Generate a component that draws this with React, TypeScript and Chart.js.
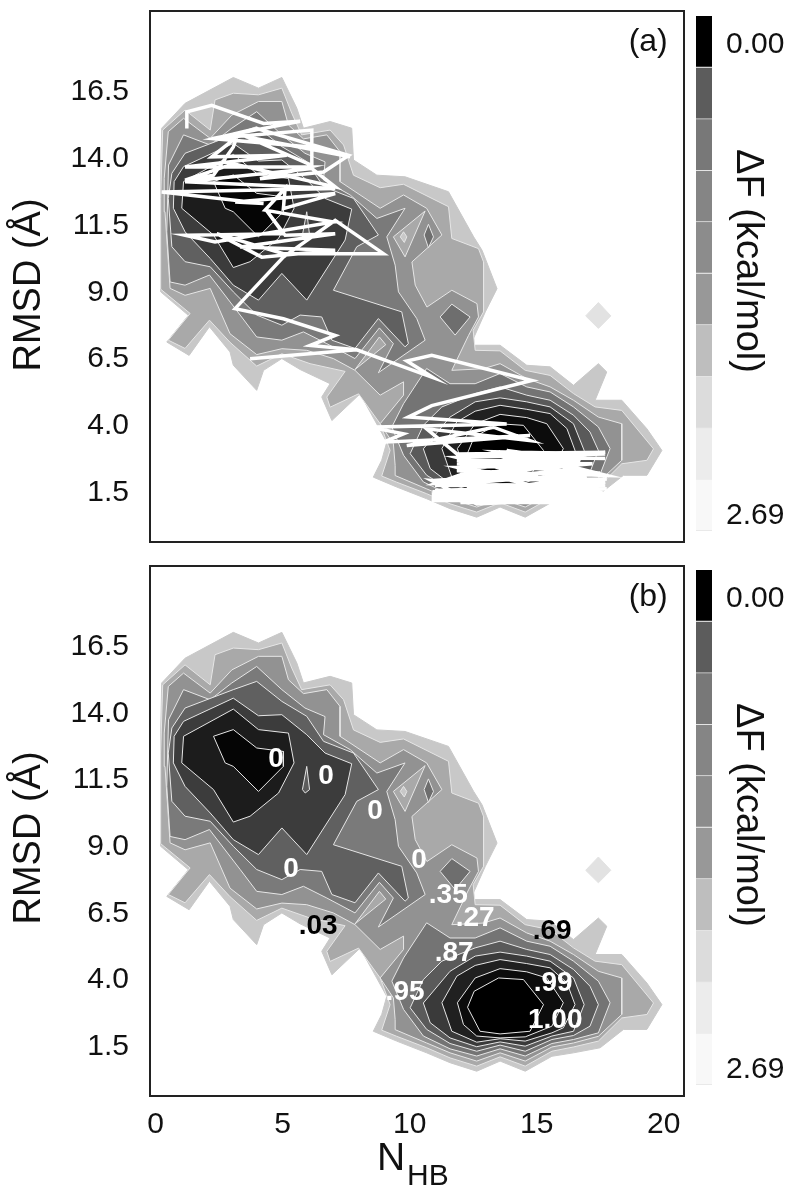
import React, { useEffect, useRef } from "react";
import { Chart, registerables } from "chart.js";

Chart.register(...registerables);
Chart.defaults.font.family = '"Liberation Sans", Arial, sans-serif';

type Pt = [number, number];

const FONT = '"Liberation Sans", Arial, sans-serif';
const xTicks = [0, 5, 10, 15, 20];
const yTicks = [1.5, 4, 6.5, 9, 11.5, 14, 16.5];
const xRange = [-0.22, 20.8];
const yRange = [-0.43, 19.46];

// free-energy contours, in data units (N_HB, RMSD)
const level0: Pt[] = [[.24,15.07],[1.16,16],[3.06,16.97],[4.05,16.57],[4.97,16.97],[5.56,15.82],[5.82,15.07],[6.87,15.32],[7.72,15.07],[7.79,13.88],[8.71,13.31],[9.82,13.25],[11.53,12.69],[12.52,11],[12.85,10.5],[13.44,9.06],[12.98,8.19],[12.45,7.06],[12.58,6.94],[13.56,6.94],[14.61,6.19],[15.53,6.13],[16.45,5.44],[17.43,6.25],[17.76,5.94],[17.3,4.88],[18.35,4.88],[19.34,3.81],[19.93,3],[19.34,2.07],[18.42,2.07],[17.5,1.38],[16.45,1.19],[15.6,1.06],[14.55,.5],[13.56,.88],[12.64,.5],[11.59,.82],[10.67,1.19],[9.49,1.63],[8.57,2],[8.9,2.63],[9.1,3.31],[8.05,5.12],[6.94,4.12],[6.54,5],[6.87,5.5],[5.69,6.03],[4.97,6.44],[4.25,6],[3.98,5.25],[3.06,6.19],[2.93,6.69],[2.12,7.63],[1.32,6.56],[.44,7.06],[1.29,8.06],[.2,8.94],[.2,13.2]];
const level1: Pt[] = [[.28,15],[1.16,15.75],[2.15,15],[2.34,16.13],[3.06,16.38],[4.05,16.32],[4.97,16.57],[5.36,15.63],[5.75,14.82],[6.87,15],[7.4,14.44],[7.79,13.31],[8.84,12.84],[9.76,12.97],[11.53,12.13],[11.66,10.94],[12.71,10.56],[12.91,10.06],[12.91,8.19],[12.5,7.5],[12.58,6.75],[13.56,6.73],[14.55,6],[15.53,5.81],[16.45,5.13],[17.3,4.63],[18.35,4.5],[19.6,3.06],[19.34,2.63],[18.35,2.5],[17.43,1.63],[16.45,1.41],[15.6,1.25],[14.55,.69],[13.56,1.04],[12.64,.69],[11.59,1],[10.67,1.38],[9.49,1.81],[8.9,2.04],[9.23,3],[8.84,4],[7.99,5.12],[6.87,4.62],[6.74,5],[7.46,5.96],[6.08,6.25],[4.97,6.62],[3.98,6.16],[2.93,7.05],[2.12,7.88],[1.16,6.82],[.5,7.13],[1.36,8.13],[.2,9.04],[.2,12.44]];
const level2: Pt[] = [[.5,14.94],[1.1,15.44],[2.15,14.69],[3,15.56],[4.05,16.07],[4.97,16.07],[5.23,15.19],[5.82,14.67],[6.74,14.82],[7.26,14.19],[7.26,13.07],[8.84,12.07],[9.76,12.57],[10.67,12.07],[11.27,11.07],[10.09,10.06],[10.22,9.19],[10.68,8.37],[11.66,9],[12.65,8.5],[12.71,8],[12.32,7.31],[11.66,6],[12.9,6.06],[13.56,6.25],[14.61,5.69],[15.53,5.38],[16.45,4.88],[17.43,4.25],[18.35,4],[18.35,2.63],[17.43,1.81],[16.45,1.56],[15.6,1.41],[14.55,.88],[13.56,1.19],[12.64,.88],[11.59,1.19],[10.67,1.56],[9.43,2.06],[9.43,2.44],[9.36,3.25],[8.84,4],[9.76,5.07],[9.76,5.57],[8.84,5.07],[7.85,6],[7,6.44],[5.95,6.75],[4.97,6.81],[3.98,6.59],[2.93,7.37],[2.15,9.07],[1.16,8.81],[.57,9.07],[.37,11.94],[.34,13.19]];
const level3Upper: Pt[] = [[.51,13.69],[1.1,14.82],[2.15,14.44],[3,15.07],[3.98,15.69],[4.97,14.82],[5.88,14.13],[6.67,13.81],[6.61,13.13],[7.66,12.57],[8.71,11.69],[9.82,12.07],[9.1,11],[9.43,9.94],[9.56,8.94],[10.28,7.94],[10.61,7.13],[8.77,5.91],[9.36,7],[8.81,7.59],[7.85,6.44],[6.74,7],[5.82,7.44],[4.97,7.13],[3.98,7.25],[3.33,8.07],[2.12,9.57],[1.16,9.19],[.57,9.31],[.44,11.19]];
const level4Upper: Pt[] = [[.64,13.38],[1.16,14.13],[3.06,14.82],[3.98,15.13],[4.97,14.38],[5.95,13.82],[6.61,12.88],[7.79,12.44],[8.77,11.07],[7.92,10.63],[7,9],[9.69,8.19],[9.95,7],[9.82,6.88],[8.77,7.94],[7.85,6.82],[6.94,7.13],[6.54,8],[5.69,8.07],[4.97,7.69],[3.98,8.07],[3.06,8.94],[2.15,9.88],[1.16,10.07],[.64,10.63],[.5,12.44]];
const level5Upper: Pt[] = [[.73,13.07],[1.1,13.63],[3.06,14.5],[4.05,13.84],[4.97,13.88],[5.95,13.13],[6.67,12.44],[7.72,12.04],[7.46,10.88],[5.95,8.63],[4.97,9.63],[4.05,8.63],[3.06,9.19],[2.15,10.19],[1.16,11.19],[.7,12.07]];
const level6Upper: Pt[] = [[1.1,13.07],[3.06,14.09],[4.05,13.32],[5.23,13.19],[5.45,12.07],[4.84,10.94],[3.72,10.07],[3.06,9.85],[2.28,11.07],[1.03,12.07]];
const level7Upper: Pt[] = [[2.28,13.07],[3.06,13.32],[3.98,12.63],[5.03,12.5],[5.03,11.94],[4.05,11],[3.06,11.94],[2.74,12.07]];
const level3Lower: Pt[] = [[10.67,6.07],[11.59,5.5],[12.58,5.5],[13.56,5.88],[14.61,5.38],[15.53,5.19],[16.45,4.63],[17.43,3.88],[17.89,3.07],[17.43,1.94],[16.45,1.69],[15.6,1.54],[14.55,1.07],[13.56,1.34],[12.64,1.07],[11.59,1.34],[10.54,1.82],[9.76,2.82],[9.3,3.88],[9.76,4.75]];
const level4Lower: Pt[] = [[11.27,4.63],[12.58,5.13],[13.56,5.38],[14.61,5.07],[15.53,4.88],[16.45,4.32],[17.1,3.69],[17.43,3],[17.1,2.19],[16.45,1.84],[15.6,1.69],[14.55,1.25],[13.56,1.48],[12.64,1.25],[11.59,1.54],[10.67,2.07],[10.02,2.88],[10.54,3.94]];
const level5Lower: Pt[] = [[10.54,3.06],[11.59,4.25],[12.58,4.82],[13.56,4.97],[14.61,4.82],[15.53,4.63],[16.45,4],[16.87,3],[16.45,2],[15.6,1.82],[14.55,1.44],[13.56,1.6],[12.64,1.42],[11.59,1.75],[10.81,2.32]];
const level6Lower: Pt[] = [[11.27,3.07],[11.86,4.07],[12.58,4.47],[13.56,4.69],[14.61,4.54],[15.53,4.38],[16.19,3.82],[16.51,3],[16.05,2.13],[15.6,1.94],[14.55,1.63],[13.56,1.72],[12.64,1.59],[11.66,2]];
const level7Lower: Pt[] = [[11.88,3.07],[12.58,4],[13.56,4.35],[14.61,4.23],[15.4,4],[16.05,3.07],[15.6,2.19],[14.55,1.79],[13.56,1.75],[12.64,1.82],[12.12,2.25]];
const level8Lower: Pt[] = [[12.54,3.5],[13.5,4],[14.48,3.94],[15.27,3],[14.74,2],[13.56,1.9],[12.77,2],[12.28,2.9]];
const islandTriangle: Pt[] = [[9.36,11],[10.61,11.97],[9.82,10.25]];
const islandSmall: Pt[] = [[9.76,11.19],[9.89,11],[9.79,10.79],[9.63,11]];
const islandDark: Pt[] = [[10.74,11.47],[10.94,11],[10.74,10.59],[10.57,11.07]];
const islandPocket: Pt[] = [[11.66,8.48],[12.38,8],[11.79,7.32],[11.2,8]];
const islandSpire: Pt[] = [[7.85,6.03],[8.81,7.25],[9.06,6.96]];
const islandSpike: Pt[] = [[5.95,11.94],[6.06,11.07],[5.89,10.94],[5.78,11.07]];
const islandFar: Pt[] = [[17.43,8.54],[17.92,8.04],[17.43,7.57],[16.93,8.04]];

const contourLayers: { pts: Pt[]; fill: string; line?: string }[] = [
  { pts: islandFar, fill: "#e2e2e2", line: "#e2e2e2" },
  { pts: level0, fill: "#c8c8c8", line: "#c8c8c8" },
  { pts: level1, fill: "#a9a9a9" },
  { pts: level2, fill: "#929292" },
  { pts: islandSpire, fill: "#a9a9a9" },
  { pts: islandPocket, fill: "#6e6e6e" },
  { pts: islandTriangle, fill: "#a9a9a9" },
  { pts: islandSmall, fill: "#c8c8c8" },
  { pts: islandDark, fill: "#6e6e6e" },
  { pts: level3Upper, fill: "#7a7a7a" },
  { pts: level3Lower, fill: "#747474" },
  { pts: level4Upper, fill: "#606060" },
  { pts: level4Lower, fill: "#5a5a5a" },
  { pts: level5Upper, fill: "#3c3c3c" },
  { pts: islandSpike, fill: "#5c5c5c" },
  { pts: level5Lower, fill: "#3a3a3a" },
  { pts: level6Upper, fill: "#1c1c1c" },
  { pts: level6Lower, fill: "#202020" },
  { pts: level7Upper, fill: "#050505" },
  { pts: level7Lower, fill: "#0c0c0c" },
  { pts: level8Lower, fill: "#000000" },
];

// trajectory over panel (a)
const trajectory: Pt[] = [[1.23,15.06],[1.23,15.68],[2.21,15.93],[4.25,15.25],[5.69,15.33],[2.21,14.68],[6.15,15],[6.15,13.68],[3.59,14.74],[7.66,14],[6.08,14.37],[2.28,14.68],[3.98,15.06],[7.6,14.05],[6.61,13.43],[4.11,13.18],[6.08,13.62],[1.16,13.62],[5.16,14.06],[2.21,14],[3.2,14.74],[3.06,14.37],[2.28,13.31],[1.16,13.12],[3.06,13.74],[7.07,12.87],[6.15,13.56],[1.16,13.06],[7.07,12.81],[.24,12.68],[4.25,12.25],[3.13,12.31],[7.07,12.62],[5.03,12.06],[5.1,12.81],[4.31,12],[7,11.56],[2.34,10.81],[1.16,11.06],[5.03,11.12],[4.31,12.06],[5.1,11.06],[7.07,11.12],[3.33,10.62],[7.07,10.5],[4.18,10.24],[2.41,11.12],[5.03,10.37],[8.97,10.37],[7.07,11.62],[5.03,10.24],[3.13,8.31],[5.03,7.93],[7.07,7.31],[6.08,6.93],[7.92,6.77],[3.72,6.43],[7.92,6.77],[10.94,5.72],[9.89,6.35],[10.87,6.56],[14.81,5.62],[10.87,4.68],[9.95,4.25],[13.82,3.99],[8.44,3.87],[9.76,3.62],[8.97,3.31],[14.74,3.56],[9.89,3.18],[13.3,3.87],[14.74,3.37],[10.67,3.81],[11.86,2.87],[17.7,2.93],[11.86,2.24],[17.76,2.06],[13.82,3],[16.71,2.62],[11.86,2.62],[16.19,2.24],[10.94,1.87],[17.76,1.93],[11.99,1.37],[17.76,1.56],[10.87,1.12],[16.19,1.12],[10.87,1.24],[17.76,1.24],[12.64,.99],[10.87,1.87],[15.92,1.43],[12.25,1.62],[17.24,1.49],[10.87,1.18],[16.45,1.31],[11.86,2.37],[15.92,2.43],[11.99,1.99],[16.97,1.99],[12.25,1.43],[16.19,1.62],[10.87,1.37],[17.7,1.81],[13.3,1.12],[17.7,1.37],[11.86,2.74],[17.7,2.87],[13.5,2.95],[16.9,2.2],[11.86,2.5],[17.2,2.5],[12,2.1],[17.5,2.15],[11,1.7],[17.7,1.7],[11,1.5],[17.6,1.45],[11,1.3],[17.5,1.28],[11,1.15],[16.5,1.05],[12,1.05],[17,1.15],[10.9,1.45],[17.7,1.62],[11,1.75],[14,2.75],[17.7,2.7]];

// probability labels over panel (b)
const labelText = ["0", "0", "0", "0", "0", ".35", ".27", ".87", ".95", ".69", ".99", "1.00", ".03"];
const labelX = [4.74, 6.71, 8.64, 10.37, 5.33, 11.52, 12.58, 11.75, 9.82, 15.61, 15.65, 15.73, 6.4];
const labelY = [12.26, 11.59, 10.31, 8.44, 8.1, 7.13, 6.26, 4.95, 3.49, 5.78, 3.83, 2.44, 5.96];
const labelColor = ["#fff", "#fff", "#fff", "#fff", "#fff", "#fff", "#fff", "#fff", "#fff", "#000", "#fff", "#fff", "#000"];

// colour bar
const barEdges = [-0.154, 0.14, 0.435, 0.729, 1.023, 1.317, 1.611, 1.906, 2.2, 2.494, 2.788];
const barColors = ["#000000", "#5c5c5c", "#787878", "#858585", "#8c8c8c", "#989898", "#bebebe", "#dcdcdc", "#ececec", "#f8f8f8"];
const barTicks = [0, 2.69];

const toXY = (p: Pt[], close: boolean) => {
  const d = p.map(([x, y]) => ({ x, y }));
  if (close) d.push({ x: p[0][0], y: p[0][1] });
  return d;
};

const noPad = (s: any) => {
  s.paddingTop = 0;
  s.paddingBottom = 0;
  s.paddingLeft = 0;
  s.paddingRight = 0;
};

function makePanel(canvas: HTMLCanvasElement, panel: "a" | "b") {
  const isB = panel === "b";
  const datasets: any[] = [];
  if (!isB) {
    datasets.push({
      data: toXY(trajectory, false),
      showLine: true,
      fill: false,
      borderColor: "#ffffff",
      borderWidth: 3.5,
      pointRadius: 0,
      tension: 0,
    });
  }
  [...contourLayers].reverse().forEach((l) => {
    datasets.push({
      data: toXY(l.pts, true),
      showLine: true,
      fill: "shape",
      backgroundColor: l.fill,
      borderColor: l.line ?? "#e6e6e6",
      borderWidth: 1,
      pointRadius: 0,
      tension: 0,
    });
  });
  const textPlugin = {
    id: "panelText",
    afterDatasetsDraw(chart: any) {
      const { ctx, chartArea: a, scales } = chart;
      ctx.save();
      ctx.strokeStyle = "#222";
      ctx.lineWidth = 2;
      ctx.strokeRect(a.left, a.top, a.right - a.left, a.bottom - a.top);
      ctx.fillStyle = "#111";
      ctx.textAlign = "center";
      ctx.textBaseline = "middle";
      ctx.font = `32px ${FONT}`;
      ctx.fillText(isB ? "(b)" : "(a)", scales.x.getPixelForValue(19.39), scales.y.getPixelForValue(18.33) + 1);
      // y axis title
      ctx.save();
      ctx.translate(30, a.top + (isB ? 272 : 274));
      ctx.rotate(-Math.PI / 2);
      ctx.font = `38px ${FONT}`;
      ctx.fillText("RMSD (Å)", 0, 0);
      ctx.restore();
      if (isB) {
        ctx.font = `bold 28px ${FONT}`;
        labelText.forEach((t, i) => {
          ctx.fillStyle = labelColor[i];
          ctx.fillText(t, scales.x.getPixelForValue(labelX[i]), scales.y.getPixelForValue(labelY[i]) + 1);
        });
        ctx.fillStyle = "#111";
        ctx.textAlign = "left";
        ctx.textBaseline = "alphabetic";
        ctx.font = `39px ${FONT}`;
        ctx.fillText("N", 377, 616);
        ctx.font = `30px ${FONT}`;
        ctx.fillText("HB", 407, 631);
      }
      ctx.restore();
    },
  };
  return new Chart(canvas, {
    type: "scatter",
    data: { datasets },
    plugins: [textPlugin],
    options: {
      animation: false,
      responsive: false,
      layout: { padding: { top: isB ? 12 : 11, right: 6, bottom: isB ? 0 : 3, left: 0 } },
      plugins: { legend: { display: false }, tooltip: { enabled: false }, title: { display: false } },
      scales: {
        x: {
          type: "linear",
          display: isB,
          min: xRange[0],
          max: xRange[1],
          grid: { display: false, drawTicks: false },
          border: { display: false },
          afterBuildTicks: (s: any) => {
            s.ticks = xTicks.map((value) => ({ value }));
          },
          afterFit: (s: any) => {
            s.height = isB ? 104 : 0;
            noPad(s);
          },
          ticks: {
            padding: 11,
            autoSkip: false,
            maxRotation: 0,
            color: "#111",
            font: { size: 30 },
            callback: (v: any) => String(v),
          },
        },
        y: {
          type: "linear",
          min: yRange[0],
          max: yRange[1],
          grid: { display: false, drawTicks: false },
          border: { display: false },
          afterBuildTicks: (s: any) => {
            s.ticks = yTicks.map((value) => ({ value }));
          },
          afterFit: (s: any) => {
            s.width = 150;
            noPad(s);
          },
          ticks: {
            padding: 21,
            labelOffset: 2,
            autoSkip: false,
            color: "#111",
            font: { size: 30 },
            callback: (v: any) => Number(v).toFixed(1),
          },
        },
      },
    } as any,
  });
}

function makeBar(canvas: HTMLCanvasElement) {
  const titlePlugin = {
    id: "barTitle",
    afterDatasetsDraw(chart: any) {
      const { ctx, chartArea: a } = chart;
      ctx.save();
      ctx.fillStyle = "#111";
      ctx.textAlign = "center";
      ctx.textBaseline = "middle";
      ctx.translate(57, a.top + 245);
      ctx.rotate(Math.PI / 2);
      ctx.font = `38px ${FONT}`;
      ctx.fillText("ΔF (kcal/mol)", 0, 0);
      ctx.restore();
    },
  };
  return new Chart(canvas, {
    type: "bar",
    data: {
      labels: ["ΔF"],
      datasets: barColors.map((c, i) => ({
        data: [[barEdges[i], barEdges[i + 1]]],
        backgroundColor: c,
        borderColor: "#e4e4e4",
        borderSkipped: false,
        borderWidth: { top: 0, right: 0, bottom: 1, left: 0 },
        grouped: false,
        barPercentage: 1,
        categoryPercentage: 1,
      })),
    } as any,
    plugins: [titlePlugin],
    options: {
      animation: false,
      responsive: false,
      layout: { padding: { top: 16, right: 0, bottom: 14, left: 6 } },
      plugins: { legend: { display: false }, tooltip: { enabled: false } },
      scales: {
        x: { display: false },
        y: {
          position: "right",
          reverse: true,
          min: barEdges[0],
          max: barEdges[barEdges.length - 1],
          grid: { display: false, drawTicks: false },
          border: { display: false },
          afterBuildTicks: (s: any) => {
            s.ticks = barTicks.map((value) => ({ value }));
          },
          afterFit: (s: any) => {
            s.width = 78;
            noPad(s);
          },
          ticks: {
            padding: 14,
            labelOffset: 2,
            autoSkip: false,
            color: "#111",
            font: { size: 30 },
            callback: (v: any) => Number(v).toFixed(2),
          },
        },
      },
    } as any,
  });
}

export default function App() {
  const a = useRef<HTMLCanvasElement>(null);
  const b = useRef<HTMLCanvasElement>(null);
  const ca = useRef<HTMLCanvasElement>(null);
  const cb = useRef<HTMLCanvasElement>(null);
  useEffect(() => {
    const charts = [
      makePanel(a.current!, "a"),
      makePanel(b.current!, "b"),
      makeBar(ca.current!),
      makeBar(cb.current!),
    ];
    return () => charts.forEach((c) => c.destroy());
  }, []);
  const abs = (left: number, top: number): React.CSSProperties => ({ position: "absolute", left, top, display: "block" });
  return (
    <div style={{ position: "absolute", left: 0, top: 0, width: 790, height: 1200, background: "#fff", overflow: "hidden" }}>
      <canvas ref={a} width={690} height={545} style={abs(0, 0)} />
      <canvas ref={ca} width={100} height={545} style={abs(690, 0)} />
      <canvas ref={b} width={690} height={646} style={abs(0, 554)} />
      <canvas ref={cb} width={100} height={545} style={abs(690, 554)} />
    </div>
  );
}
